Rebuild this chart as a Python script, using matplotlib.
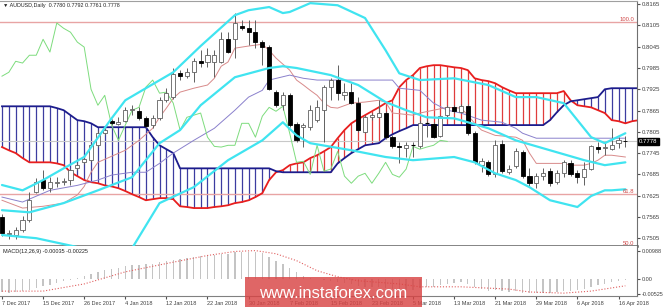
import numpy as np
import matplotlib.pyplot as plt
from matplotlib.patches import Rectangle

plt.rcParams['font.family'] = ['Liberation Sans', 'DejaVu Sans']

header = '\u25bc AUDUSD,Daily  0.7780 0.7792 0.7761 0.7778'

opens = [0.7564, 0.7516, 0.7514, 0.7528, 0.7556, 0.7635, 0.7669, 0.7646, 0.7660, 0.7663,
         0.7669, 0.7702, 0.7719, 0.7725, 0.7767, 0.7801, 0.7835, 0.7826, 0.7835, 0.7866,
         0.7863, 0.7843, 0.7824, 0.7843, 0.7894, 0.7903, 0.7970, 0.7962, 0.7973, 0.8004,
         0.8001, 0.8001, 0.8001, 0.8066, 0.8066, 0.8103, 0.8097, 0.8086, 0.8058, 0.8044,
         0.7917, 0.7880, 0.7908, 0.7826, 0.7818, 0.7818, 0.7838, 0.7866, 0.7931, 0.7951,
         0.7908, 0.7917, 0.7886, 0.7804, 0.7846, 0.7846, 0.7858, 0.7790, 0.7764, 0.7759,
         0.7767, 0.7764, 0.7829, 0.7826, 0.7793, 0.7852, 0.7874, 0.7860, 0.7877, 0.7801,
         0.7711, 0.7719, 0.7685, 0.7770, 0.7691, 0.7708, 0.7748, 0.7680, 0.7660, 0.7680,
         0.7694, 0.7663, 0.7688, 0.7716, 0.7688, 0.7677, 0.7700, 0.7762, 0.7759, 0.7756,
         0.7773, 0.7780]
highs = [0.7572, 0.7528, 0.7536, 0.7567, 0.7635, 0.7674, 0.7697, 0.7677, 0.7677, 0.7674,
         0.7702, 0.7719, 0.7734, 0.7773, 0.7810, 0.7815, 0.7841, 0.7846, 0.7874, 0.7880,
         0.7874, 0.7849, 0.7852, 0.7903, 0.7928, 0.7984, 0.7979, 0.7984, 0.8013, 0.8035,
         0.8041, 0.8035, 0.8086, 0.8086, 0.8140, 0.8120, 0.8120, 0.8120, 0.8063, 0.8049,
         0.7922, 0.7917, 0.7914, 0.7832, 0.7829, 0.7880, 0.7894, 0.7936, 0.7956, 0.7993,
         0.7942, 0.7942, 0.7903, 0.7852, 0.7858, 0.7894, 0.7863, 0.7795, 0.7776, 0.7776,
         0.7776, 0.7838, 0.7838, 0.7832, 0.7852, 0.7880, 0.7880, 0.7883, 0.7883, 0.7807,
         0.7731, 0.7725, 0.7781, 0.7781, 0.7711, 0.7759, 0.7753, 0.7702, 0.7688, 0.7702,
         0.7702, 0.7697, 0.7725, 0.7725, 0.7697, 0.7719, 0.7767, 0.7776, 0.7773, 0.7815,
         0.7790, 0.7792]
lows = [0.7511, 0.7502, 0.7502, 0.7522, 0.7550, 0.7632, 0.7640, 0.7635, 0.7649, 0.7654,
        0.7654, 0.7697, 0.7714, 0.7719, 0.7762, 0.7795, 0.7824, 0.7824, 0.7832, 0.7852,
        0.7838, 0.7815, 0.7815, 0.7838, 0.7889, 0.7897, 0.7951, 0.7956, 0.7945, 0.7987,
        0.7987, 0.7959, 0.7999, 0.8027, 0.8013, 0.8092, 0.8049, 0.8041, 0.7993, 0.7922,
        0.7874, 0.7866, 0.7818, 0.7776, 0.7762, 0.7810, 0.7832, 0.7776, 0.7894, 0.7894,
        0.7894, 0.7883, 0.7804, 0.7801, 0.7838, 0.7843, 0.7784, 0.7759, 0.7716, 0.7734,
        0.7734, 0.7759, 0.7790, 0.7787, 0.7790, 0.7846, 0.7858, 0.7858, 0.7795, 0.7714,
        0.7691, 0.7680, 0.7677, 0.7688, 0.7685, 0.7702, 0.7674, 0.7649, 0.7646, 0.7669,
        0.7651, 0.7657, 0.7677, 0.7680, 0.7660, 0.7654, 0.7697, 0.7745, 0.7739, 0.7753,
        0.7759, 0.7761]
closes = [0.7519, 0.7519, 0.7528, 0.7556, 0.7612, 0.7663, 0.7646, 0.7663, 0.7663, 0.7665,
          0.7697, 0.7711, 0.7728, 0.7767, 0.7801, 0.7810, 0.7829, 0.7832, 0.7866, 0.7868,
          0.7843, 0.7821, 0.7843, 0.7894, 0.7914, 0.7968, 0.7962, 0.7973, 0.8004, 0.7999,
          0.8021, 0.8021, 0.8066, 0.8030, 0.8112, 0.8097, 0.8086, 0.8058, 0.8044, 0.7925,
          0.7880, 0.7908, 0.7824, 0.7781, 0.7824, 0.7866, 0.7874, 0.7931, 0.7951, 0.7914,
          0.7917, 0.7886, 0.7810, 0.7846, 0.7852, 0.7858, 0.7790, 0.7764, 0.7762, 0.7767,
          0.7767, 0.7829, 0.7829, 0.7790, 0.7849, 0.7874, 0.7863, 0.7877, 0.7801, 0.7719,
          0.7722, 0.7685, 0.7767, 0.7694, 0.7700, 0.7750, 0.7680, 0.7660, 0.7680, 0.7688,
          0.7660, 0.7688, 0.7719, 0.7685, 0.7677, 0.7700, 0.7764, 0.7756, 0.7762, 0.7767,
          0.7781, 0.7778]

# bollinger bands (bar index, price)
bb_up_idx = [0, 3, 6, 9, 12, 16, 18, 21, 25, 29, 34, 36, 39, 41, 42, 45, 49, 53, 56, 58,
             61, 66, 71, 75, 78, 82, 86, 88, 91]
bb_up = [0.7655, 0.7640, 0.7669, 0.7702, 0.7734, 0.7843, 0.7894, 0.7928, 0.7973, 0.8047,
         0.8134, 0.8148, 0.8157, 0.8140, 0.8143, 0.8168, 0.8162, 0.8126, 0.8035, 0.7970,
         0.7951, 0.7956, 0.7937, 0.7903, 0.7903, 0.7886, 0.7790, 0.7773, 0.7801]
bb_mid_idx = [0, 4, 9, 14, 19, 23, 26, 29, 34, 39, 41, 43, 48, 52, 56, 59, 62, 66, 68, 71,
              75, 80, 85, 88, 91]
bb_mid = [0.7584, 0.7578, 0.7604, 0.7640, 0.7677, 0.7773, 0.7810, 0.7880, 0.7959, 0.7985,
          0.7990, 0.7985, 0.7965, 0.7937, 0.7889, 0.7866, 0.7846, 0.7843, 0.7832, 0.7815,
          0.7781, 0.7753, 0.7725, 0.7711, 0.7719]
bb_low_idx = [0, 5, 11, 14, 19, 23, 28, 33, 38, 41, 43, 45, 51, 56, 60, 66, 69, 72, 75, 77,
              80, 84, 86, 88, 89, 91]
bb_low = [0.7514, 0.7505, 0.7480, 0.7466, 0.7477, 0.7604, 0.7649, 0.7725, 0.7781, 0.7832,
          0.7795, 0.7773, 0.7753, 0.7734, 0.7725, 0.7734, 0.7719, 0.7688, 0.7669, 0.7649,
          0.7612, 0.7593, 0.7624, 0.7640, 0.7640, 0.7643]

# ichimoku
tenkan_idx = [0, 3, 6, 9, 11, 12, 13, 14, 16, 18, 20, 22, 23, 24, 25, 26, 28, 30, 31, 32,
              33, 34, 36, 38, 39, 40, 42, 43, 44, 45, 46, 47, 48, 49, 51, 53, 55, 56, 57, 60,
              61, 63, 65, 67, 68, 69, 70, 72, 75, 76, 77, 78, 82, 83, 85, 86, 87, 88, 89, 91]
tenkan = [0.7612, 0.7590, 0.7595, 0.7604, 0.7627, 0.7651, 0.7691, 0.7719, 0.7736, 0.7753,
          0.7781, 0.7815, 0.7846, 0.7872, 0.7900, 0.7917, 0.7928, 0.7937, 0.7956, 0.7990,
          0.8002, 0.8041, 0.8047, 0.8052, 0.8035, 0.8013, 0.7979, 0.7951, 0.7937, 0.7922,
          0.7908, 0.7886, 0.7874, 0.7872, 0.7886, 0.7889, 0.7894, 0.7889, 0.7858, 0.7852,
          0.7858, 0.7866, 0.7874, 0.7872, 0.7852, 0.7829, 0.7810, 0.7795, 0.7790, 0.7781,
          0.7745, 0.7716, 0.7716, 0.7711, 0.7711, 0.7716, 0.7725, 0.7739, 0.7739, 0.7734]
kijun_idx = [0, 3, 7, 11, 14, 16, 19, 21, 23, 25, 28, 31, 34, 36, 38, 39, 42, 44, 46, 57,
             58, 61, 63, 65, 67, 70, 73, 75, 76, 78, 91]
kijun = [0.7621, 0.7607, 0.7640, 0.7654, 0.7669, 0.7683, 0.7691, 0.7691, 0.7716, 0.7745,
         0.7781, 0.7815, 0.7866, 0.7903, 0.7922, 0.7951, 0.7965, 0.7956, 0.7951, 0.7951,
         0.7928, 0.7922, 0.7886, 0.7866, 0.7858, 0.7838, 0.7832, 0.7815, 0.7801, 0.7787,
         0.7787]
span_a = [0.7762, 0.7753, 0.7745, 0.7731, 0.7719, 0.7719, 0.7719, 0.7719, 0.7716, 0.7711,
          0.7691, 0.7680, 0.7669, 0.7663, 0.7660, 0.7654, 0.7651, 0.7646, 0.7638, 0.7629,
          0.7621, 0.7612, 0.7615, 0.7618, 0.7618, 0.7615, 0.7595, 0.7593, 0.7590, 0.7590,
          0.7590, 0.7593, 0.7595, 0.7598, 0.7604, 0.7607, 0.7612, 0.7621, 0.7632, 0.7669,
          0.7691, 0.7697, 0.7711, 0.7716, 0.7719, 0.7731, 0.7739, 0.7750, 0.7762, 0.7787,
          0.7810, 0.7829, 0.7841, 0.7852, 0.7863, 0.7874, 0.7886, 0.7894, 0.7931, 0.7951,
          0.7965, 0.7985, 0.7990, 0.7993, 0.7993, 0.7990, 0.7987, 0.7985, 0.7979, 0.7956,
          0.7951, 0.7948, 0.7942, 0.7931, 0.7922, 0.7914, 0.7914, 0.7914, 0.7914, 0.7914,
          0.7914, 0.7914, 0.7920, 0.7894, 0.7880, 0.7877, 0.7874, 0.7866, 0.7858, 0.7838,
          0.7835, 0.7829, 0.7835, 0.7838]
span_b = ([0.7877] * 8 + [0.7872, 0.7866, 0.7852, 0.7838, 0.7835, 0.7829] + [0.7818] * 8
          + [0.7790, 0.7767, 0.7756, 0.7745] + [0.7702] * 14 + [0.7694] + [0.7691] * 8
          + [0.7716, 0.7731, 0.7745, 0.7756, 0.7767, 0.7770, 0.7773, 0.7787, 0.7798, 0.7807, 0.7815]
          + [0.7824] * 20 + [0.7838, 0.7860, 0.7880, 0.7891, 0.7894, 0.7897, 0.7900, 0.7903]
          + [0.7925] + [0.7928] * 5)

fib_levels = [0.8114, 0.7629, 0.7480]
fib_names = ['100.0', '61.8', '50.0']
price_ticks = [0.8165, 0.8105, 0.8045, 0.7985, 0.7925, 0.7865, 0.7805, 0.7745,
               0.7685, 0.7625, 0.7565, 0.7505]
last_price = 0.7778

macd = [-4.5, -4.6, -4.5, -4.2, -3.6, -3.0, -2.4, -1.8, -1.2, -0.7,
        -0.1, 0.5, 1.1, 1.8, 2.6, 3.2, 3.6, 4.0, 4.5, 4.9,
        5.1, 5.2, 5.4, 5.9, 6.3, 6.9, 7.2, 7.5, 7.9, 8.1,
        8.4, 8.5, 8.9, 8.9, 9.4, 9.6, 9.6, 9.4, 9.0, 7.8,
        6.4, 5.3, 3.9, 2.4, 1.2, 0.6, 0.2, -0.3, -0.6, -1.0,
        -1.3, -1.6, -2.4, -2.6, -2.7, -2.6, -3.0, -3.4, -3.6, -3.7,
        -3.6, -3.0, -2.6, -2.5, -2.0, -1.5, -1.2, -1.0, -1.5, -2.5,
        -3.2, -3.9, -3.7, -4.1, -4.3, -4.2, -4.6, -4.8, -4.8, -4.7,
        -4.7, -4.5, -4.1, -3.9, -3.8, -3.5, -2.6, -2.0, -1.5, -1.0,
        -0.7, -0.35]
signal_idx = [0, 6, 12, 18, 24, 30, 34, 37, 40, 43, 46, 49, 52, 58, 61, 67, 74, 77, 82, 86, 91]
signal = [-4.1, -4.1, -1.6, 2.6, 5.5, 8.3, 9.7, 10.0, 8.9, 6.5, 3.0, 0.9, -0.5, -1.6,
          -2.6, -2.6, -3.4, -4.4, -4.8, -4.1, -2.25]

date_idx = [0, 6, 12, 18, 24, 30, 36, 42, 48, 54, 60, 66, 72, 78, 84, 90]
date_labels = ['7 Dec 2017', '15 Dec 2017', '26 Dec 2017', '4 Jan 2018', '12 Jan 2018',
               '22 Jan 2018', '30 Jan 2018', '7 Feb 2018', '15 Feb 2018', '23 Feb 2018',
               '5 Mar 2018', '13 Mar 2018', '21 Mar 2018', '29 Mar 2018', '6 Apr 2018',
               '16 Apr 2018']

W, H = 665, 307
fig = plt.figure(figsize=(W / 100, H / 100), dpi=100)
ax = fig.add_axes([0, 61 / H, 637 / W, 245 / H])
axm = fig.add_axes([0, 11 / H, 637 / W, 50 / H])

x0, x1 = -0.29, 92.7
ax.set_xlim(x0, x1)
ax.set_ylim(0.7483, 0.8174)
axm.set_xlim(x0, x1)
axm.set_ylim(-0.0058, 0.0116)

# cloud
sa = np.array(span_a)
sb = np.array(span_b)
ci = np.arange(len(sa))
ax.vlines(ci[sb >= sa], sa[sb >= sa], sb[sb >= sa], color='#3c3ca0', lw=0.9, zorder=1)
ax.vlines(ci[sa > sb], sb[sa > sb], sa[sa > sb], color='#e03c3c', lw=0.9, zorder=1)
ax.plot(ci, sa, color='#e81e1e', lw=1.3, zorder=2)
ax.plot(ci, sb, color='#1c1c8c', lw=1.3, zorder=2)

for lvl, name in zip(fib_levels, fib_names):
    ax.axhline(lvl, color='#e8a4a4', lw=1.0, zorder=1)
    ax.text(x1 - 0.4, lvl + 0.0002, name, ha='right', va='bottom', fontsize=4.2,
            color='#d04848', zorder=6)
ax.axhline(last_price, color='#c8c8c8', lw=0.8, zorder=1)

ax.plot(tenkan_idx, tenkan, color='#d88a8a', lw=0.7, zorder=2)
ax.plot(kijun_idx, kijun, color='#8a80cc', lw=0.7, zorder=2)
chikou = closes[26:]
ax.plot(range(len(chikou)), chikou, color='#7ddc7d', lw=0.7, zorder=2)

# candles
idx = np.arange(len(closes))
for i in idx:
    o, h, l, c = opens[i], highs[i], lows[i], closes[i]
    ax.vlines(i, l, h, color='#606060', lw=0.7, zorder=3)
    if c >= o:
        fc, ec = 'white', '#606060'
    else:
        fc, ec = 'black', 'black'
    if abs(c - o) < 0.0001:
        ax.hlines(o, i - 0.3, i + 0.3, color='black', lw=0.8, zorder=4)
    else:
        ax.bar(i, abs(c - o), bottom=min(o, c), width=0.6, facecolor=fc,
               edgecolor=ec, lw=0.6, zorder=4)

for bi, bv in [(bb_up_idx, bb_up), (bb_mid_idx, bb_mid), (bb_low_idx, bb_low)]:
    ax.plot(bi, bv, color='#40e4f0', lw=1.6, zorder=5, solid_capstyle='round')

ax.text(0.004, 0.993, header, transform=ax.transAxes, ha='left', va='top',
        fontsize=3.9, color='#202020')

ax.yaxis.tick_right()
ax.set_yticks(price_ticks)
ax.set_yticklabels(['%.4f' % t for t in price_ticks])
ax.tick_params(axis='y', labelsize=4.3, length=2, pad=1.5, colors='#505050',
               labelcolor='#404040')
ax.set_xticks([])
ax.text(1.003, last_price, '%.4f' % last_price, transform=ax.get_yaxis_transform(),
        ha='left', va='center', fontsize=4.3, color='white', zorder=7,
        bbox=dict(facecolor='black', edgecolor='black', pad=0.9), clip_on=False)

ax.spines['left'].set_visible(False)
ax.spines['top'].set_color('#a0a0a0')
ax.spines['top'].set_linewidth(0.8)
ax.spines['right'].set_color('#707070')
ax.spines['right'].set_linewidth(0.8)
ax.spines['bottom'].set_color('#606060')
ax.spines['bottom'].set_linewidth(1.8)

# macd panel
axm.bar(idx, np.array(macd) / 1000, width=0.2, color='#c4c4c4', zorder=2)
axm.plot(signal_idx, np.array(signal) / 1000, color='#e06060', lw=0.8, ls=':', zorder=3)
axm.text(0.004, 0.93, 'MACD(12,26,9) -0.00035 -0.00225', transform=axm.transAxes,
         ha='left', va='top', fontsize=4.0, color='#202020')
axm.yaxis.tick_right()
axm.set_yticks([0.00988, 0.0, -0.00525])
axm.set_yticklabels(['0.00988', '0.00', '-0.00525'])
axm.tick_params(axis='y', labelsize=4.0, length=2, pad=1.2, colors='#505050',
                labelcolor='#404040')
axm.set_xticks(date_idx)
axm.set_xticklabels(date_labels, ha='left')
axm.tick_params(axis='x', labelsize=4.0, length=2, pad=1.5, colors='#505050',
                labelcolor='#404040')
axm.spines['left'].set_visible(False)
axm.spines['top'].set_visible(False)
axm.spines['right'].set_color('#707070')
axm.spines['right'].set_linewidth(0.8)
axm.spines['bottom'].set_color('#808080')
axm.spines['bottom'].set_linewidth(0.8)

# watermark
fig.patches.append(Rectangle((245 / W, 0), 177 / W, 30 / H, transform=fig.transFigure,
                             facecolor='#d94444', alpha=0.82, edgecolor='none', zorder=10))
fig.text(333 / W, 13 / H, 'www.instaforex.com', ha='center', va='center', fontsize=12,
         color='white', zorder=11)

fig.savefig('out.png', dpi=100)
